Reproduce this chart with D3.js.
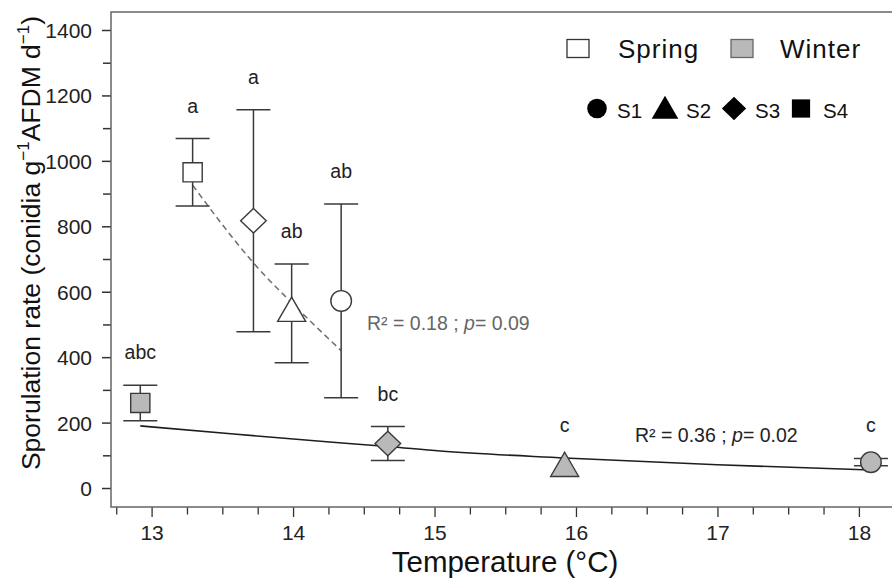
<!DOCTYPE html>
<html><head><meta charset="utf-8">
<script src="https://cdn.jsdelivr.net/npm/d3@7"></script>
<style>
html,body{margin:0;padding:0;background:#fff;}
svg{display:block;font-family:"Liberation Sans",Arial,sans-serif;}
</style></head>
<body>
<svg id="chart" width="892" height="582"></svg>
<script>
// ---- data ----
const springTemp    = [13.29, 13.72, 13.99, 14.34];
const springMean    = [965, 817, 534, 572];
const springSE      = [103, 339, 151, 296];
const springSite    = ["S4", "S3", "S2", "S1"];
const springLetters = ["a", "a", "ab", "ab"];

const winterTemp    = [12.92, 14.67, 15.92, 18.085];
const winterMean    = [260, 136, 60, 79];
const winterSE      = [54, 52, 0, 11];
const winterSite    = ["S4", "S3", "S2", "S1"];
const winterLetters = ["abc", "bc", "c", "c"];

const springFitT = [13.29, 13.5, 13.72, 14.0, 14.34];
const springFitV = [926, 805, 688, 562, 420];
const winterFitT = [12.92, 13.58, 14.28, 14.67, 15.04, 15.92, 17.0, 18.085];
const winterFitV = [190, 165, 140, 127, 113, 92, 71, 55];

const yTicks = [0, 200, 400, 600, 800, 1000, 1200, 1400];
const yMinor = [100, 300, 500, 700, 900, 1100, 1300];
const xTicks = [13, 14, 15, 16, 17, 18];
const xMinor = [12.75, 13.25, 13.5, 13.75, 14.25, 14.5, 14.75, 15.25, 15.5, 15.75,
                16.25, 16.5, 16.75, 17.25, 17.5, 17.75];

const springStat = "R² = 0.18 ; ";
const springP = "p= 0.09";
const winterStat = "R² = 0.36 ; ";
const winterP = "p= 0.02";

const seasons = ["Spring", "Winter"];
const sites = ["S1", "S2", "S3", "S4"];

// ---- layout ----
const svg = d3.select("#chart");
const pLeft = 111, pRight = 892, pTop = 12, pBottom = 507;
const x = d3.scaleLinear().domain([12.713, 18.234]).range([pLeft, pRight]);
const y = d3.scaleLinear().domain([-58, 1455]).range([pBottom, pTop]);
const FONT = '"Liberation Sans",Arial,sans-serif';
const springFill = "#ffffff", winterFill = "#b9b9b9";
const markStroke = "#3a3a3a";

// marker shape paths (centred)
function shape(site, cx, cy, k) {
  k = k || 1;
  if (site === "S1") {
    const r = 10.3 * k;
    return `M${cx - r},${cy}a${r},${r} 0 1,0 ${2 * r},0a${r},${r} 0 1,0 ${-2 * r},0Z`;
  }
  if (site === "S2") {
    const s = 28 * k, h = s * Math.sqrt(3) / 2;
    return `M${cx},${cy - 2 * h / 3}L${cx + s / 2},${cy + h / 3}L${cx - s / 2},${cy + h / 3}Z`;
  }
  if (site === "S3") {
    const w = 12.8 * k, hh = 12.3 * k;
    return `M${cx},${cy - hh}L${cx + w},${cy}L${cx},${cy + hh}L${cx - w},${cy}Z`;
  }
  const a = 9.6 * k;
  return `M${cx - a},${cy - a}H${cx + a}V${cy + a}H${cx - a}Z`;
}
function markerTop(site, cy) {
  if (site === "S1") return cy - 10.3;
  if (site === "S2") return cy - 28 * Math.sqrt(3) / 3;
  if (site === "S3") return cy - 12.3;
  return cy - 9.6;
}

// ---- axes ----
const gy = svg.append("g").attr("transform", `translate(${pLeft},0)`);
gy.call(d3.axisLeft(y).tickValues(yTicks).tickSize(9).tickPadding(10).tickFormat(d3.format("d")));
gy.append("g").call(d3.axisLeft(y).tickValues(yMinor).tickSize(8).tickFormat(""));
gy.selectAll(".domain").remove();
gy.selectAll("line").attr("stroke", "#333").attr("stroke-width", 1.5);
gy.selectAll("text").attr("font-size", 21).attr("font-family", FONT).attr("fill", "#222").attr("dy", "0.36em");

const gx = svg.append("g").attr("transform", `translate(0,${pBottom})`);
gx.call(d3.axisBottom(x).tickValues(xTicks).tickSize(10).tickPadding(8).tickFormat(d3.format("d")));
gx.append("g").call(d3.axisBottom(x).tickValues(xMinor).tickSize(7.5).tickFormat(""));
gx.selectAll(".domain").remove();
gx.selectAll("line").attr("stroke", "#333").attr("stroke-width", 1.3);
gx.selectAll("text").attr("font-size", 21).attr("font-family", FONT).attr("fill", "#222");

// frame
svg.append("path")
  .attr("d", `M${pRight},${pTop}H${pLeft}V${pBottom}H${pRight}`)
  .attr("fill", "none").attr("stroke", "#666").attr("stroke-width", 1.5);

// axis titles
svg.append("text").attr("x", 505).attr("y", 571.5).attr("text-anchor", "middle")
  .attr("font-size", 29.5).attr("fill", "#111").text("Temperature (°C)");

const yt = svg.append("text").attr("transform", "translate(40,243) rotate(-90)")
  .attr("text-anchor", "middle").attr("font-size", 26.5).attr("fill", "#111");
yt.append("tspan").text("Sporulation rate (conidia g");
yt.append("tspan").attr("font-size", 17).attr("dy", -11).text("−1");
yt.append("tspan").attr("dy", 11).text("AFDM d");
yt.append("tspan").attr("font-size", 17).attr("dy", -11).text("−1");
yt.append("tspan").attr("dy", 11).text(")");

// ---- fit lines ----
const line = d3.line().x(d => x(d[0])).y(d => y(d[1])).curve(d3.curveMonotoneX);
svg.append("path").datum(springFitT.map((t, i) => [t, springFitV[i]]))
  .attr("d", line).attr("fill", "none").attr("stroke", "#6e6e6e")
  .attr("stroke-width", 1.5).attr("stroke-dasharray", "6,4");
svg.append("path").datum(winterFitT.map((t, i) => [t, winterFitV[i]]))
  .attr("d", line).attr("fill", "none").attr("stroke", "#1e1e1e").attr("stroke-width", 1.6);

// ---- points ----
function drawSeries(temps, means, ses, sitesArr, letters, fill) {
  const data = temps.map((t, i) => ({ t, m: means[i], se: ses[i], site: sitesArr[i], lab: letters[i] }));
  const g = svg.append("g");
  const eb = g.selectAll("g.eb").data(data.filter(d => d.se > 0)).join("g").attr("class", "eb")
    .attr("stroke", "#3a3a3a").attr("stroke-width", 1.5);
  eb.append("line").attr("x1", d => x(d.t)).attr("x2", d => x(d.t))
    .attr("y1", d => y(d.m + d.se)).attr("y2", d => y(d.m - d.se));
  eb.append("line").attr("x1", d => x(d.t) - 17).attr("x2", d => x(d.t) + 17)
    .attr("y1", d => y(d.m + d.se)).attr("y2", d => y(d.m + d.se));
  eb.append("line").attr("x1", d => x(d.t) - 17).attr("x2", d => x(d.t) + 17)
    .attr("y1", d => y(d.m - d.se)).attr("y2", d => y(d.m - d.se));
  g.selectAll("path.mk").data(data).join("path").attr("class", "mk")
    .attr("d", d => shape(d.site, x(d.t), y(d.m)))
    .attr("fill", fill).attr("stroke", markStroke).attr("stroke-width", 1.4);
  g.selectAll("text.lab").data(data).join("text").attr("class", "lab")
    .attr("x", d => x(d.t))
    .attr("y", d => Math.min(y(d.m + d.se) - 26, markerTop(d.site, y(d.m)) - 20))
    .attr("text-anchor", "middle").attr("font-size", 19.5).attr("fill", "#222")
    .text(d => d.lab);
}
drawSeries(springTemp, springMean, springSE, springSite, springLetters, springFill);
drawSeries(winterTemp, winterMean, winterSE, winterSite, winterLetters, winterFill);

// ---- stats text ----
const s1 = svg.append("text").attr("x", 367).attr("y", 330).attr("font-size", 19.5).attr("fill", "#666");
s1.append("tspan").text(springStat);
s1.append("tspan").attr("font-style", "italic").text(springP.slice(0, 1));
s1.append("tspan").text(springP.slice(1));
const s2 = svg.append("text").attr("x", 635).attr("y", 441.5).attr("font-size", 19.5).attr("fill", "#222");
s2.append("tspan").text(winterStat);
s2.append("tspan").attr("font-style", "italic").text(winterP.slice(0, 1));
s2.append("tspan").text(winterP.slice(1));

// ---- legend ----
const lg = svg.append("g");
const seasonX = [578, 742];
const seasonTextX = [618, 780];
const seasonFills = [springFill, winterFill];
seasons.forEach((s, i) => {
  lg.append("rect").attr("x", seasonX[i] - 11).attr("y", 39.5).attr("width", 22).attr("height", 18)
    .attr("fill", seasonFills[i]).attr("stroke", i === 0 ? "#333" : "#666").attr("stroke-width", 1.3);
  lg.append("text").attr("x", seasonTextX[i]).attr("y", 57.5).attr("font-size", 26)
    .attr("letter-spacing", 1).attr("fill", "#111").text(s);
});
const siteX = [597, 665, 734, 801];
const siteTextX = [617, 686, 755, 823];
sites.forEach((s, i) => {
  lg.append("path").attr("d", shape(s, siteX[i], s === "S2" ? 111 : 108.5, 0.95)).attr("fill", "#000");
  lg.append("text").attr("x", siteTextX[i]).attr("y", 118).attr("font-size", 20.5).attr("fill", "#111").text(s);
});
</script>
</body></html>
